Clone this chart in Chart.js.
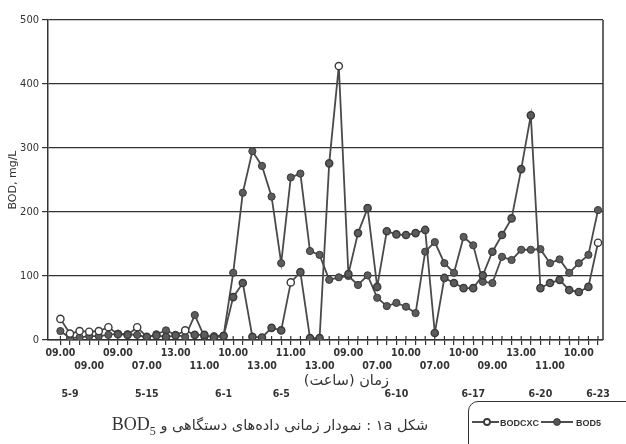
<!DOCTYPE html>
<html><head><meta charset="utf-8">
<script src="https://cdn.jsdelivr.net/npm/chart.js@4"></script>
<style>
html,body{margin:0;padding:0;background:#fff;}
#wrap{position:relative;width:626px;height:444px;overflow:hidden;background:#fff;}
#c{position:absolute;left:0;top:0;}
#caption{position:absolute;left:40px;top:414px;width:460px;text-align:center;direction:rtl;font-family:'DejaVu Sans',sans-serif;font-size:14.5px;color:#333;white-space:nowrap;}
#caption .bod{font-family:'Liberation Serif',serif;font-size:18px;}
#caption sub{font-size:12px;}
#legend{position:absolute;left:468px;top:401px;width:190px;height:70px;border:1.5px solid #333;border-radius:10px;}
</style></head><body>
<div id="wrap">
<canvas id="c" width="626" height="444"></canvas>
<div id="caption">شکل ۱a : نمودار زمانی داده‌های دستگاهی و <span class="bod">BOD<sub>5</sub></span></div>
<div id="legend">
<svg width="190" height="60" xmlns="http://www.w3.org/2000/svg">
<line x1="3" y1="20" x2="30" y2="20" stroke="#3a3a3a" stroke-width="1.8"/>
<circle cx="18" cy="20" r="3" fill="#fff" stroke="#3a3a3a" stroke-width="1.8"/>
<text x="31" y="23.5" font-family="Liberation Sans, Arial" font-weight="bold" font-size="9" fill="#333">BODCXC</text>
<line x1="72" y1="20" x2="104" y2="20" stroke="#3a3a3a" stroke-width="1.8"/>
<circle cx="88" cy="20" r="3.4" fill="#555" stroke="#3a3a3a" stroke-width="1"/>
<text x="107" y="23.5" font-family="Liberation Sans, Arial" font-weight="bold" font-size="9" fill="#333">BOD5</text>
</svg>
</div>
</div>
<script>
// ---- data ----
const sampleIndex = Array.from({length: 57}, (_, i) => i);
const bodcxc = [33,10,14,13,14,20,9,8,20,5, 7,5,7,15,8,8,4,6,67,89, 5,4,19,15,90,106,3,3,276,428,
  103,167,206,83,170,165,164,167,172,11, 97,89,81,81,101,138,164,190,267,351, 81,89,94,78,75,83,152];
const bod5 = [14,3,4,6,6,8,10,9,8,4, 9,15,8,5,39,5,6,7,105,230, 295,272,224,120,254,260,139,133,94,98,
  100,86,101,66,53,58,52,42,138,153, 120,105,161,148,91,89,130,125,141,141, 142,120,126,105,120,133,203];
const timeRow1 = ['09.00','09.00','13.00','10.00','11.00','09.00','10.00','10·00','13.00','10.00'];
const timeRow1At = [0,6,12,18,24,30,36,42,48,54];
const timeRow2 = ['09.00','07.00','11.00','13.00','13.00','07.00','07.00','09.00','11.00'];
const timeRow2At = [3,9,15,21,27,33,39,45,51];
const dates = ['5-9','5-15','6-1','6-5','6-10','6-17','6-20','6-23'];
const datesAt = [1,9,17,23,35,43,50,56];
const xTitle = 'زمان (ساعت)';
const xTitleAt = 30;
const yTitle = 'BOD, mg/L';
const yTicks = [0,100,200,300,400,500];
const hollowCXC = [0,1,2,3,4,5,8,13,24,29,56];

function labelFor(list, at, i){ const k = at.indexOf(i); return k >= 0 ? list[k] : ''; }

const ink = '#333';
const tickFont = {family: "'Liberation Sans Narrow','DejaVu Sans Condensed','Liberation Sans',Arial", size: 10.5, weight: 'bold', lineHeight: 1.3};
const yTickFont = {family: "'Liberation Sans Narrow','DejaVu Sans Condensed','Liberation Sans',Arial", size: 11, weight: 'normal'};

const frame = {
  id: 'frame',
  beforeDatasetsDraw(c){
    const {ctx, chartArea: a, scales: {x}} = c;
    ctx.save();
    ctx.strokeStyle = ink; ctx.lineWidth = 1.5;
    ctx.beginPath(); ctx.moveTo(a.right, a.top); ctx.lineTo(a.right, a.bottom); ctx.stroke();
    ctx.lineWidth = 1.2; ctx.beginPath();
    sampleIndex.forEach(i => { const px = x.getPixelForValue(i); ctx.moveTo(px, a.bottom - 4); ctx.lineTo(px, a.bottom); });
    ctx.stroke();
    ctx.restore();
  },
  afterDraw(c){
    const {ctx, chartArea: a, scales: {x}} = c;
    ctx.save();
    ctx.fillStyle = ink; ctx.font = "14.5px 'DejaVu Sans'";
    ctx.textAlign = 'center'; ctx.textBaseline = 'middle'; ctx.direction = 'rtl';
    ctx.fillText(xTitle, x.getPixelForValue(xTitleAt) - 2, a.bottom + 41);
    ctx.restore();
  }
};

new Chart(document.getElementById('c'), {
  type: 'line',
  data: {
    datasets: [
      {label: 'BODCXC', data: sampleIndex.map(i => ({x: i, y: bodcxc[i]})),
       borderColor: '#4a4a4a', borderWidth: 1.8, pointRadius: 3.6, pointBorderWidth: 1.4,
       pointBorderColor: '#3a3a3a',
       pointBackgroundColor: ctx => hollowCXC.includes(ctx.dataIndex) ? '#fff' : '#5c5c5c'},
      {label: 'BOD5', data: sampleIndex.map(i => ({x: i, y: bod5[i]})),
       borderColor: '#4a4a4a', borderWidth: 1.8, pointRadius: 3.6, pointBorderWidth: 1,
       pointBorderColor: '#3a3a3a', pointBackgroundColor: '#5c5c5c'}
    ]
  },
  options: {
    responsive: false, animation: false,
    layout: {padding: {top: 20, right: 23, left: 0, bottom: 0}},
    plugins: {legend: {display: false}, tooltip: {enabled: false}},
    scales: {
      x: {
        type: 'linear', min: -1.29, max: 56.52,
        afterBuildTicks: s => { s.ticks = sampleIndex.map(v => ({value: v})); },
        afterFit: s => { s.height = 104; },
        grid: {drawOnChartArea: false, drawTicks: true, tickLength: 5, color: ink, lineWidth: 1.2},
        border: {display: true, color: ink, width: 1.5},
        ticks: {autoSkip: false, maxRotation: 0, minRotation: 0, padding: 1, color: ink, font: tickFont,
          callback: v => [labelFor(timeRow1, timeRow1At, v), labelFor(timeRow2, timeRow2At, v), '', labelFor(dates, datesAt, v)]}
      },
      y: {
        min: 0, max: 500,
        afterBuildTicks: s => { s.ticks = yTicks.map(v => ({value: v})); },
        afterFit: s => { s.width = 48; },
        grid: {color: ink, lineWidth: 1.2, tickLength: 6},
        border: {color: ink, width: 1.5},
        ticks: {padding: 3, color: ink, font: yTickFont},
        title: {display: true, text: yTitle, color: ink, padding: {top: 7, bottom: 0},
          font: {family: "'DejaVu Sans',sans-serif", size: 11}}
      }
    }
  },
  plugins: [frame]
});
</script>
</body></html>
